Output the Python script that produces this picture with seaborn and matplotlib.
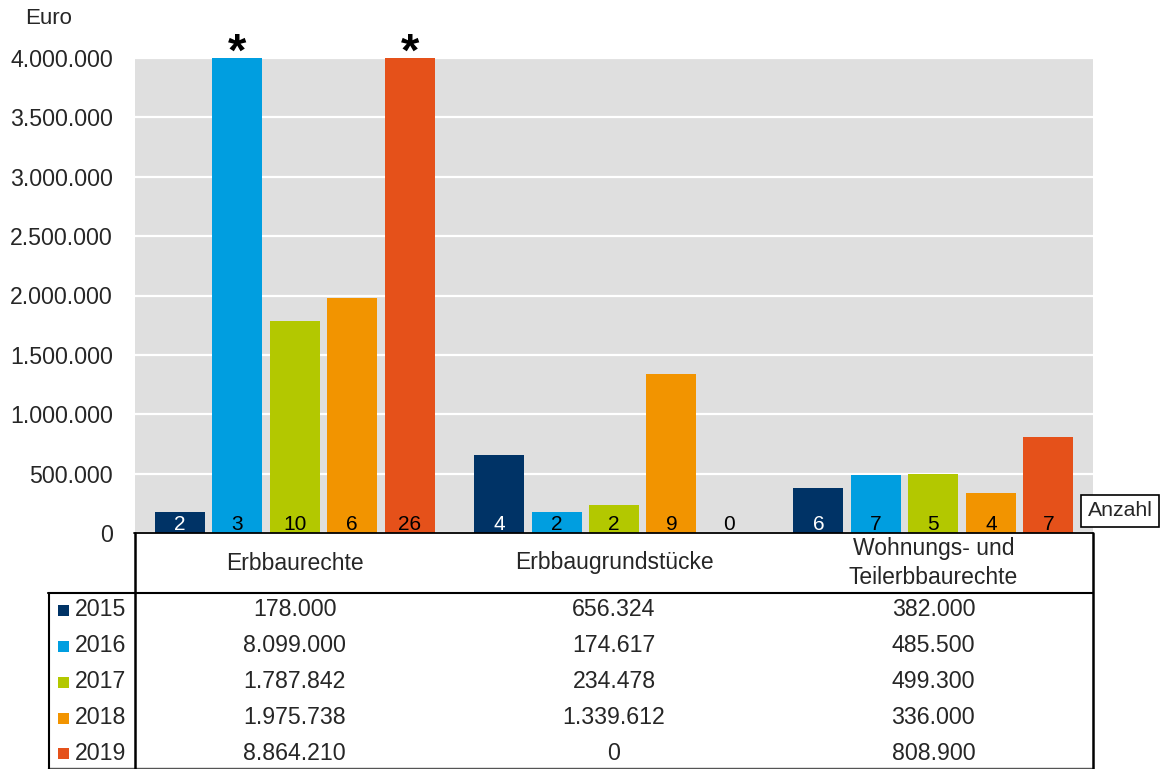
import matplotlib
matplotlib.use("Agg")
import matplotlib.pyplot as plt
import matplotlib.transforms as mtransforms
from matplotlib.lines import Line2D
from matplotlib.patches import Rectangle
import seaborn as sns
import pandas as pd

# ---- data ----
categories = ["Erbbaurechte", "Erbbaugrundstücke", "Wohnungs- und\nTeilerbbaurechte"]
years = ["2015", "2016", "2017", "2018", "2019"]
values = {
    "2015": [178000, 656324, 382000],
    "2016": [8099000, 174617, 485500],
    "2017": [1787842, 234478, 499300],
    "2018": [1975738, 1339612, 336000],
    "2019": [8864210, 0, 808900],
}
counts = {
    "2015": [2, 4, 6],
    "2016": [3, 2, 7],
    "2017": [10, 2, 5],
    "2018": [6, 9, 4],
    "2019": [26, 0, 7],
}
y_ticks = [0, 500000, 1000000, 1500000, 2000000, 2500000, 3000000, 3500000, 4000000]
y_max = 4000000

colors = ["#003366", "#009EE0", "#B3C800", "#F29400", "#E5511A"]
label_colors = ["white", "black", "black", "black", "black"]

rows = []
for yr in years:
    for cat, v in zip(categories, values[yr]):
        rows.append({"Kategorie": cat, "Jahr": yr, "Euro": v})
df = pd.DataFrame(rows)


def de_fmt(v):
    return f"{int(round(v)):,}".replace(",", ".")


sns.set_theme(style="white")
plt.rcParams["font.family"] = ["Liberation Sans", "DejaVu Sans"]

W, H = 1161, 769
fig = plt.figure(figsize=(W / 100, H / 100), dpi=100)


def fx(px):
    return px / W


def fy(py):
    return 1 - py / H


ax_l, ax_r, ax_t, ax_b = 135, 1093, 58, 533
ax = fig.add_axes([fx(ax_l), fy(ax_b), fx(ax_r) - fx(ax_l), fy(ax_t) - fy(ax_b)])
ax.set_facecolor("#DFDFDF")

sns.barplot(data=df, x="Kategorie", y="Euro", hue="Jahr", order=categories,
            hue_order=years, palette=colors, saturation=1, width=0.9, gap=0.13,
            linewidth=0, legend=False, ax=ax)

ax.set_ylim(0, y_max)
ax.set_yticks(y_ticks)
ax.set_yticklabels([de_fmt(t) for t in y_ticks], fontsize=16.7)
ax.set_xticks([])
ax.set_xlabel("")
ax.set_ylabel("")
ax.tick_params(axis="y", length=0, pad=16)
ax.set_axisbelow(True)
ax.yaxis.grid(True, color="white", linewidth=1.6)
for s in ax.spines.values():
    s.set_visible(False)

# count labels at the foot of each bar, and a star where the bar runs off the scale
n_hue = len(years)
slot = 0.9 / n_hue
xa = mtransforms.blended_transform_factory(ax.transData, ax.transAxes)
xf = mtransforms.blended_transform_factory(ax.transData, fig.transFigure)
for hi, yr in enumerate(years):
    for ci in range(len(categories)):
        xpos = ci - 0.45 + slot * (hi + 0.5)
        ax.text(xpos, 0.006, str(counts[yr][ci]), transform=xa, ha="center",
                va="baseline", fontsize=15, color=label_colors[hi], clip_on=True)
        if values[yr][ci] > y_max:
            ax.text(xpos, fy(54), "*", transform=xf, ha="center", va="center",
                    fontsize=34, fontweight="bold", color="black", clip_on=False)

fig.text(fx(25), fy(18), "Euro", fontsize=16, ha="left", va="center")

fig.text(fx(1120), fy(511), "Anzahl", fontsize=15.3, ha="center", va="center",
         bbox=dict(boxstyle="square,pad=0.3", facecolor="white", edgecolor="black",
                   linewidth=1.2))

# ---- data table below the plot ----
for ci, cat in enumerate(categories):
    ax.text(ci, fy(563), cat, transform=xf, ha="center", va="center",
            fontsize=16.5, linespacing=1.35, clip_on=False)

row_y = [610, 646, 682, 718, 753]
for hi, yr in enumerate(years):
    ry = row_y[hi]
    fig.add_artist(Rectangle((fx(58), fy(ry + 6)), fx(11), 11 / H,
                             transform=fig.transFigure, facecolor=colors[hi],
                             edgecolor="none"))
    fig.text(fx(75), fy(ry), yr, fontsize=16.7, ha="left", va="center")
    for ci in range(len(categories)):
        ax.text(ci, fy(ry), de_fmt(values[yr][ci]), transform=xf, ha="center",
                va="center", fontsize=16.7, clip_on=False)


def hline(y, x0, x1, lw=1.5, color="black"):
    fig.add_artist(Line2D([fx(x0), fx(x1)], [fy(y), fy(y)],
                          transform=fig.transFigure, color=color, linewidth=lw))


def vline(x, y0, y1, lw=1.5, color="black"):
    fig.add_artist(Line2D([fx(x), fx(x)], [fy(y0), fy(y1)],
                          transform=fig.transFigure, color=color, linewidth=lw))


hline(533, 134, 1093, lw=1.3)
hline(593, 48, 1093, lw=1.5)
hline(768, 48, 1093, lw=1.0, color="#555555")
vline(135, 533, 769, lw=1.8)
vline(1093, 533, 769, lw=1.8)
vline(49, 593, 769, lw=1.5)

fig.savefig("out.png", dpi=100)
